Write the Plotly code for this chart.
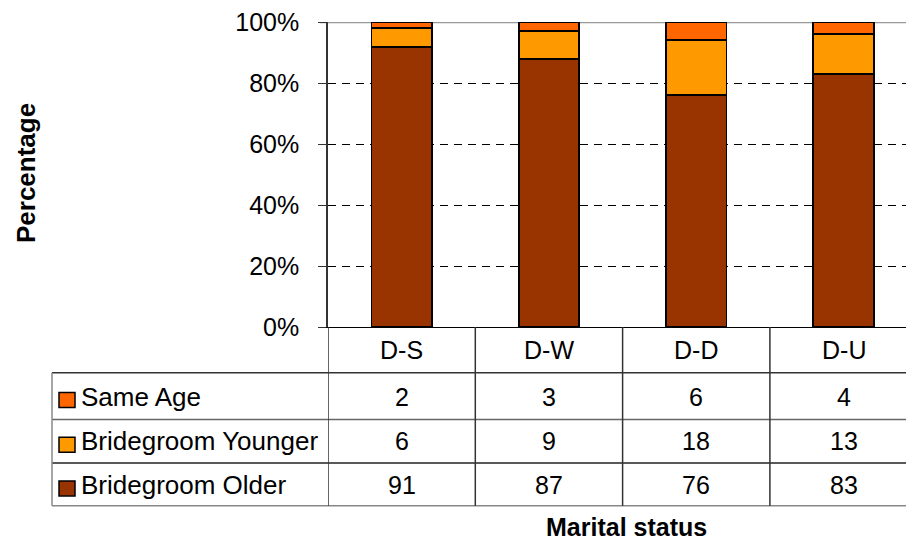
import plotly.graph_objects as go

# dados do grafico
categorias = ["D-S", "D-W", "D-D", "D-U"]
series = ["Same Age", "Bridegroom Younger", "Bridegroom Older"]
same_age = [2, 3, 6, 4]
bridegroom_younger = [6, 9, 18, 13]
bridegroom_older = [91, 87, 76, 83]
y_ticks = [0, 20, 40, 60, 80, 100]
y_tick_labels = ["0%", "20%", "40%", "60%", "80%", "100%"]

cores = {
    "Same Age": "#FF6600",
    "Bridegroom Younger": "#FF9900",
    "Bridegroom Older": "#993300",
}
valores = {
    "Same Age": same_age,
    "Bridegroom Younger": bridegroom_younger,
    "Bridegroom Older": bridegroom_older,
}

# a pagina tem margem de 8px no body, entao a figura fica menor
OFF = 8
W, H = 914 - OFF, 545 - OFF
# area do grafico em pixels (coordenadas da janela)
PX0, PX1, PY0, PY1 = 328, 914, 20, 327
fonte = "Liberation Sans, Arial, sans-serif"


def px(x):
    return (x - PX0) / (PX1 - PX0)


def py(y):
    return (PY1 - y) / (PY1 - PY0)


fig = go.Figure()
# empilhadas de baixo para cima
for nome in ["Bridegroom Older", "Bridegroom Younger", "Same Age"]:
    fig.add_trace(go.Bar(
        x=list(range(len(categorias))),
        y=valores[nome],
        name=nome,
        width=0.41,
        marker=dict(color=cores[nome], line=dict(color="black", width=1.8)),
    ))

cat_w = 147.3
fig.update_layout(
    width=W, height=H,
    margin=dict(l=PX0 - OFF, r=914 - PX1, t=PY0 - OFF, b=545 - PY1),
    barmode="stack", barnorm="percent",
    showlegend=False,
    plot_bgcolor="white", paper_bgcolor="white",
    font=dict(family=fonte, size=25, color="black"),
    xaxis=dict(range=[-0.5, -0.5 + (PX1 - PX0) / cat_w], showticklabels=False,
               showgrid=False, zeroline=False, showline=True,
               linecolor="black", linewidth=1, fixedrange=True),
    yaxis=dict(range=[0, 100], tickvals=y_ticks, ticktext=y_tick_labels,
               showgrid=True, gridcolor="black", griddash="8px,6px", gridwidth=1,
               zeroline=False, showline=True, linecolor="#333", linewidth=1.5,
               ticks="outside", ticklen=8, tickcolor="#333",
               ticklabelstandoff=14, ticklabeloverflow="allow",
               tickfont=dict(size=25)),
)

shapes = []
# linha do topo (100%) em cinza
shapes.append(dict(type="line", xref="paper", yref="y", x0=px(320), x1=1,
                   y0=100, y1=100, line=dict(color="#999999", width=2.5),
                   layer="between"))

# tabela de dados
tab_top, row1, row2, tab_bot = 373, 420, 464, 507
tab_left = 52
for yy, cor in [(tab_top, "#333"), (row1, "#666"), (row2, "#222"), (tab_bot, "#888")]:
    shapes.append(dict(type="line", xref="paper", yref="paper",
                       x0=px(tab_left), x1=1, y0=py(yy), y1=py(yy),
                       line=dict(color=cor, width=1.5)))
shapes.append(dict(type="line", xref="paper", yref="paper",
                   x0=px(tab_left), x1=px(tab_left), y0=py(tab_top), y1=py(tab_bot),
                   line=dict(color="#888", width=1.5)))
for i in range(len(categorias)):
    shapes.append(dict(type="line", xref="x", yref="paper",
                       x0=i - 0.5, x1=i - 0.5, y0=0, y1=py(tab_bot),
                       line=dict(color="#333", width=1.5)))

annotations = []
centros = [350, 397, 442, 486]
for i, c in enumerate(categorias):
    annotations.append(dict(x=i, y=py(centros[0]), xref="x", yref="paper",
                            text=c, showarrow=False, xanchor="center", yanchor="middle",
                            font=dict(size=25)))
for r, nome in enumerate(series):
    yc = centros[r + 1]
    shapes.append(dict(type="rect", xref="paper", yref="paper",
                       x0=px(59), x1=px(75), y0=py(yc - 4), y1=py(yc + 11),
                       fillcolor=cores[nome], line=dict(color="black", width=1.5)))
    annotations.append(dict(x=px(79), y=py(yc), xref="paper", yref="paper",
                            text=nome, showarrow=False, xanchor="left", yanchor="middle",
                            font=dict(size=26)))
    for i, v in enumerate(valores[nome]):
        annotations.append(dict(x=i, y=py(yc), xref="x", yref="paper",
                                text=str(v), showarrow=False, xanchor="center",
                                yanchor="middle", font=dict(size=25)))

# titulos dos eixos
annotations.append(dict(x=px(626), y=py(528), xref="paper", yref="paper",
                        text="<b>Marital status</b>", showarrow=False,
                        xanchor="center", yanchor="middle", font=dict(size=25)))
annotations.append(dict(x=px(26), y=py(172), xref="paper", yref="paper",
                        text="<b>Percentage</b>", showarrow=False, textangle=-90,
                        xanchor="center", yanchor="middle", font=dict(size=26)))

fig.update_layout(shapes=shapes, annotations=annotations)

fig.write_html("out.html")
